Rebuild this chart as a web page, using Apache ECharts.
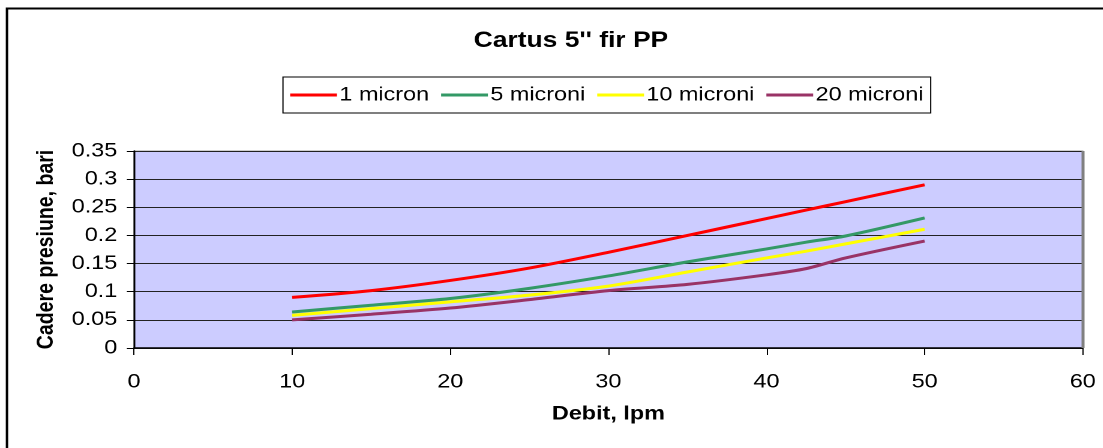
<!DOCTYPE html>
<html><head><meta charset="utf-8">
<script src="https://cdn.jsdelivr.net/npm/echarts@6/dist/echarts.min.js"></script>
<style>
html,body{margin:0;padding:0;background:#fff;overflow:hidden}
#wrap{width:1103px;height:448px;overflow:hidden}
#c{width:919.1667px;height:448px;transform:scaleX(1.2);transform-origin:0 0}
</style>
</head><body><div id="wrap"><div id="c"></div></div>
<script>
const debit = [10, 15, 20, 25, 30, 35, 40, 42.5, 45, 50];
const micron1   = [0.09, 0.102, 0.12, 0.142, 0.17, 0.2, 0.23, 0.245, 0.26, 0.29];
const microni5  = [0.064, 0.076, 0.088, 0.106, 0.128, 0.153, 0.176, 0.188, 0.199, 0.231];
const microni10 = [0.058, 0.07, 0.082, 0.094, 0.11, 0.135, 0.16, 0.172, 0.185, 0.211];
const microni20 = [0.05, 0.06, 0.071, 0.086, 0.102, 0.113, 0.13, 0.141, 0.16, 0.19];
const seriesNames = ['1 micron', '5 microni', '10 microni', '20 microni'];
const colors = ['#FF0000', '#339966', '#FFFF00', '#993366'];
const yTicks = [0, 0.05, 0.1, 0.15, 0.2, 0.25, 0.3, 0.35];
const xTicks = [0, 10, 20, 30, 40, 50, 60];

// The reference image is stretched horizontally by ~1.2; the chart is laid out
// in unstretched coordinates and the container is scaled with CSS.
const chart = echarts.init(document.getElementById('c'), null, {renderer: 'canvas', devicePixelRatio: 2});
const F = 'Liberation Sans, Arial, sans-serif';
const mk = (arr) => debit.map((x, i) => [x, arr[i]]);
const all = [micron1, microni5, microni10, microni20];
chart.setOption({
  animation: false,
  backgroundColor: '#fff',
  title: {text: "Cartus 5'' fir PP", left: 470.8, top: 25, textAlign: 'center',
    textStyle: {fontFamily: F, fontSize: 22, fontWeight: 'bold', color: '#000'}},
  legend: {
    left: 235.8, top: 77,
    padding: [8, 6, 8, 6], itemGap: 10,
    itemWidth: 39, itemHeight: 3,
    borderColor: '#000', borderWidth: 1,
    icon: 'rect',
    textStyle: {fontFamily: F, fontSize: 19.5, color: '#000', padding: [0, 0, 0, -3]},
    data: seriesNames
  },
  graphic: [{type: 'rect', shape: {x: 5.8, y: 8.5, width: 1200, height: 600},
    style: {fill: 'none', stroke: '#000', lineWidth: 2}, silent: true}],
  grid: {left: 111.7, right: 16.7, top: 151, bottom: 100, containLabel: false,
    show: true, backgroundColor: '#CCCCFF', borderColor: '#A0A0A0', borderWidth: 1},
  xAxis: {
    type: 'value', min: 0, max: 60, interval: 10,
    name: 'Debit, lpm', nameLocation: 'middle', nameGap: 56,
    nameTextStyle: {fontFamily: F, fontSize: 19.5, fontWeight: 'bold', color: '#000'},
    axisLine: {show: true, onZero: false, lineStyle: {color: '#000', width: 1.5}},
    axisTick: {show: true, length: 7, lineStyle: {color: '#000'}},
    axisLabel: {fontFamily: F, fontSize: 19.5, color: '#000', margin: 24,
      formatter: v => xTicks.includes(v) ? String(v) : ''},
    splitLine: {show: false}
  },
  yAxis: {
    type: 'value', min: 0, max: 0.35, interval: 0.05,
    name: 'Cadere presiune, bari', nameLocation: 'middle', nameGap: 63, nameRotate: 90,
    nameTextStyle: {fontFamily: F, fontSize: 19.5, fontWeight: 'bold', color: '#000'},
    axisLine: {show: true, lineStyle: {color: '#000', width: 1.5}},
    axisTick: {show: true, length: 6, lineStyle: {color: '#000'}},
    axisLabel: {fontFamily: F, fontSize: 19.5, color: '#000', margin: 14,
      formatter: v => { const t = yTicks.find(k => Math.abs(k - v) < 1e-9); return t === undefined ? '' : String(+t.toFixed(2)); }},
    splitLine: {show: true, lineStyle: {color: '#222', width: 1}}
  },
  series: all.map((arr, i) => ({
    name: seriesNames[i], type: 'line', data: mk(arr), smooth: 0.3,
    showSymbol: false, symbol: 'none',
    lineStyle: {color: colors[i], width: 3}, itemStyle: {color: colors[i]}, z: 10 - i
  })).concat([{
    type: 'line', data: [], markLine: {silent: true, symbol: 'none', label: {show: false},
      lineStyle: {color: '#808080', width: 2.5, type: 'solid'}, data: [[{coord: [60, 0]}, {coord: [60, 0.35]}]]}
  }])
});
</script></body></html>
